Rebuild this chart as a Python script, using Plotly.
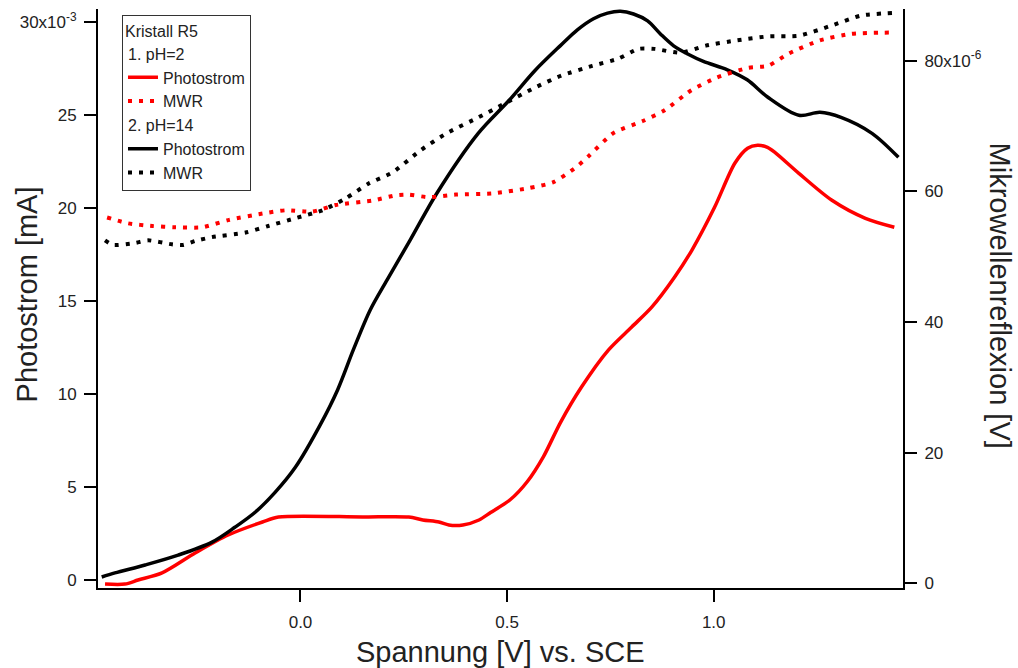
import plotly.graph_objects as go

# ---- data (x in V vs. SCE; photocurrent in 1e-3 units; MWR in 1e-6 units) ----
x_ph2_ps = [-0.473, -0.425, -0.393, -0.335, -0.255, -0.175, -0.092, -0.053, 0.150, 0.262,
            0.296, 0.335, 0.359, 0.393, 0.432, 0.460, 0.508, 0.549, 0.588, 0.629,
            0.680, 0.745, 0.801, 0.850, 0.905, 0.947, 1.002, 1.051, 1.082, 1.106,
            1.130, 1.148, 1.206, 1.286, 1.367, 1.437]
y_ph2_ps = [-0.22, -0.22, 0.0, 0.38, 1.45, 2.42, 3.12, 3.39, 3.39, 3.39,
            3.23, 3.12, 2.96, 2.96, 3.23, 3.63, 4.33, 5.30, 6.64, 8.47,
            10.38, 12.37, 13.60, 14.68, 16.29, 17.74, 20.05, 22.42, 23.23, 23.39,
            23.28, 23.01, 21.88, 20.43, 19.46, 18.98]

x_ph14_ps = [-0.481, -0.449, -0.376, -0.296, -0.214, -0.158, -0.109, -0.061, -0.012, 0.048,
             0.090, 0.128, 0.169, 0.210, 0.266, 0.330, 0.430, 0.505, 0.567, 0.629,
             0.670, 0.709, 0.743, 0.774, 0.806, 0.840, 0.871, 0.903, 0.937, 0.975,
             1.033, 1.081, 1.131, 1.206, 1.257, 1.308, 1.383, 1.447]
y_ph14_ps = [0.16, 0.38, 0.81, 1.34, 2.04, 2.85, 3.66, 4.73, 6.08, 8.36,
             10.24, 12.39, 14.54, 16.16, 18.31, 20.81, 24.03, 25.81, 27.4, 28.75,
             29.6, 30.2, 30.5, 30.6, 30.45, 30.08, 29.38, 28.74, 28.3, 27.9,
             27.45, 26.91, 25.97, 25.0, 25.16, 24.89, 24.03, 22.74]

x_ph2_mwr = [-0.468, -0.417, -0.359, -0.303, -0.238, -0.175, -0.092, -0.036, 0.029, 0.085,
             0.175, 0.231, 0.262, 0.311, 0.376, 0.466, 0.553, 0.612, 0.667, 0.699,
             0.757, 0.830, 0.881, 0.944, 1.007, 1.083, 1.131, 1.182, 1.257, 1.333, 1.432]
y_ph2_mwr = [56.0, 55.1, 54.7, 54.5, 54.5, 55.6, 56.6, 57.1, 56.9, 57.9,
             58.6, 59.4, 59.5, 59.1, 59.5, 59.7, 60.5, 61.4, 63.7, 65.5,
             68.9, 70.8, 72.4, 75.4, 77.4, 78.9, 79.2, 81.1, 83.1, 84.1, 84.3]

x_ph14_mwr = [-0.473, -0.454, -0.400, -0.369, -0.311, -0.284, -0.255, -0.214, -0.133, -0.078,
              -0.012, 0.053, 0.109, 0.165, 0.223, 0.291, 0.354, 0.430, 0.493, 0.568,
              0.631, 0.706, 0.769, 0.818, 0.857, 0.920, 0.981, 1.056, 1.131, 1.206,
              1.282, 1.357, 1.432]
y_ph14_mwr = [52.5, 51.8, 52.1, 52.5, 51.9, 51.8, 52.4, 53.0, 53.7, 54.7,
              55.9, 57.1, 58.9, 61.2, 62.9, 66.3, 68.9, 71.3, 73.4, 75.9,
              77.7, 79.2, 80.3, 81.8, 81.8, 81.2, 82.3, 83.1, 83.7, 83.8,
              85.3, 86.9, 87.3]

x_tickvals = [0.0, 0.5, 1.0]
x_ticktext = ["0.0", "0.5", "1.0"]
yl_tickvals = [0, 5, 10, 15, 20, 25, 30]
yl_ticktext = ["0", "5", "10", "15", "20", "25", "30x10<sup>-3</sup>"]
yr_tickvals = [0, 20, 40, 60, 80]
yr_ticktext = ["0", "20", "40", "60", "80x10<sup>-6</sup>"]

RED = "#ff0000"
BLK = "#000000"
FONT = "Liberation Sans, Arial, sans-serif"
DOT = "4px,7px"

fig = go.Figure()
fig.add_trace(go.Scatter(x=x_ph2_ps, y=y_ph2_ps, mode="lines", name="Photostrom",
                         line=dict(color=RED, width=3.5, shape="spline", smoothing=0.8),
                         legendgroup="g1", legendgrouptitle_text="1. pH=2"))
fig.add_trace(go.Scatter(x=x_ph2_mwr, y=y_ph2_mwr, mode="lines", name="MWR", yaxis="y2",
                         line=dict(color=RED, width=4, dash=DOT, shape="spline", smoothing=0.6),
                         legendgroup="g1"))
fig.add_trace(go.Scatter(x=x_ph14_ps, y=y_ph14_ps, mode="lines", name="Photostrom",
                         line=dict(color=BLK, width=3.5, shape="spline", smoothing=0.9),
                         legendgroup="g2", legendgrouptitle_text="2. pH=14"))
fig.add_trace(go.Scatter(x=x_ph14_mwr, y=y_ph14_mwr, mode="lines", name="MWR", yaxis="y2",
                         line=dict(color=BLK, width=4, dash=DOT, shape="spline", smoothing=0.6),
                         legendgroup="g2"))

axis_common = dict(showline=True, linecolor="black", linewidth=2, ticks="outside",
                   ticklen=12, tickwidth=2, tickcolor="black", showgrid=False, zeroline=False,
                   tickfont=dict(family=FONT, size=17, color="#222"))

fig.update_layout(
    width=1018, height=668,
    margin=dict(l=98, r=115, t=9, b=80),
    paper_bgcolor="white", plot_bgcolor="white",
    font=dict(family=FONT, color="#222"),
    xaxis=dict(range=[-0.49, 1.458], tickvals=x_tickvals, ticktext=x_ticktext,
               ticklabelstandoff=6, **axis_common),
    yaxis=dict(range=[-0.43, 30.72], tickvals=yl_tickvals, ticktext=yl_ticktext,
               ticklabelstandoff=4, **axis_common),
    yaxis2=dict(range=[-0.69, 87.9], tickvals=yr_tickvals, ticktext=yr_ticktext,
                overlaying="y", side="right", ticklabelstandoff=4, **axis_common),
    legend=dict(x=0.0298, y=0.99, xanchor="left", yanchor="top",
                bgcolor="white", bordercolor="#333", borderwidth=1,
                font=dict(family=FONT, size=16, color="#222"),
                title=dict(text="Kristall R5", font=dict(family=FONT, size=16, color="#222")),
                grouptitlefont=dict(family=FONT, size=16, color="#222"),
                tracegroupgap=0, traceorder="grouped"),
    showlegend=True,
    annotations=[
        dict(text="Spannung [V] vs. SCE", xref="paper", yref="paper", x=0.4994, y=-0.1107,
             xanchor="center", yanchor="middle", showarrow=False,
             font=dict(family=FONT, size=29, color="#222")),
        dict(text="Photostrom [mA]", xref="paper", yref="paper", x=-0.0882, y=0.507,
             xanchor="center", yanchor="middle", showarrow=False, textangle=-90,
             font=dict(family=FONT, size=29, color="#222")),
        dict(text="Mikrowellenreflexion [V]", xref="paper", yref="paper", x=1.1205, y=0.505,
             xanchor="center", yanchor="middle", showarrow=False, textangle=90,
             font=dict(family=FONT, size=29, color="#222")),
    ],
)

fig.write_html("out.html")
